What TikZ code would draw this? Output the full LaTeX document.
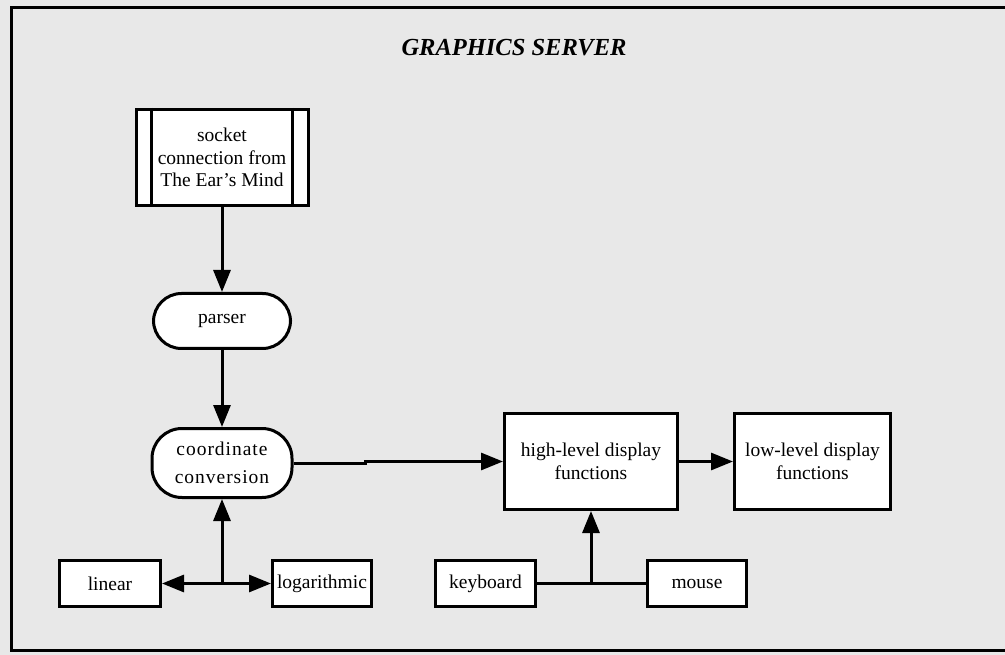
\documentclass[tikz,border=0pt]{standalone}
\usepackage{fontspec}
\setmainfont{Liberation Serif}
\newfontfamily\spacedserif{Liberation Serif}[LetterSpace=5]
\usetikzlibrary{arrows.meta}
\begin{document}
\begin{tikzpicture}[x=1pt,y=-1pt,
  every node/.style={font=\fontsize{19.5}{22.5}\selectfont, align=center, inner sep=0pt},
  box/.style={draw, line width=3pt, fill=white},
  pill/.style={box, rounded corners=28pt},
  arr/.style={line width=3pt, -{Triangle[length=22pt,width=17pt]}},
  link/.style={line width=3pt}
]
\definecolor{panel}{HTML}{E8E8E8}
% page background and frame
\fill[panel] (0,0) rectangle (1005,655);
\useasboundingbox (0,0) rectangle (1005,655);
\draw[line width=3pt] (11,8) rectangle (1008,650);

\node[font=\fontsize{24.5}{28}\selectfont\bfseries\itshape] (title) at (514,48) {GRAPHICS SERVER};

% left column
\node[box, minimum width=172pt, minimum height=96pt] (sock) at (222,157.5)
  {socket\\connection from\\The Ear's Mind};
\draw[line width=3pt] ([xshift=17pt]sock.north west) -- ([xshift=17pt]sock.south west);
\draw[line width=3pt] ([xshift=-17pt]sock.north east) -- ([xshift=-17pt]sock.south east);

\node[pill, minimum width=137pt, minimum height=55pt] (parser) at (222,321) {parser};
\node[pill, rounded corners=30pt, minimum width=140pt, minimum height=69pt] (cc) at (222,463)
  {\spacedserif coordinate\\[5pt]\spacedserif conversion};

\node[box, minimum width=101pt, minimum height=46pt] (linear) at (110,583.5) {linear};
\node[box, minimum width=99pt, minimum height=46pt] (log) at (322,583.5) {logarithmic};

% right group
\node[box, minimum width=173pt, minimum height=96pt] (hl) at (591,461.5) {high-level display\\functions};
\node[box, minimum width=156pt, minimum height=96pt] (ll) at (812.5,461.5) {low-level display\\functions};
\node[box, minimum width=100pt, minimum height=46pt] (kb) at (485.5,583.5) {keyboard};
\node[box, minimum width=99pt, minimum height=46pt] (mouse) at (697,583.5) {mouse};

% connectors
\draw[arr] (sock) -- (parser);
\draw[arr] (parser) -- (cc);

\coordinate (bend) at (365,463);
\draw[arr] (cc.east) -- (bend) |- (hl.west);
\draw[arr] (hl) -- (ll);

\coordinate (scalejoin) at (cc.south |- linear.east);
\draw[arr] (scalejoin) -- (cc);
\draw[arr] (scalejoin) -- (linear);
\draw[arr] (scalejoin) -- (log);

\coordinate (inputjoin) at (hl.south |- kb.east);
\draw[link] (kb.east) -- (mouse.west);
\draw[arr] (inputjoin) -- (hl);
\end{tikzpicture}
\end{document}
